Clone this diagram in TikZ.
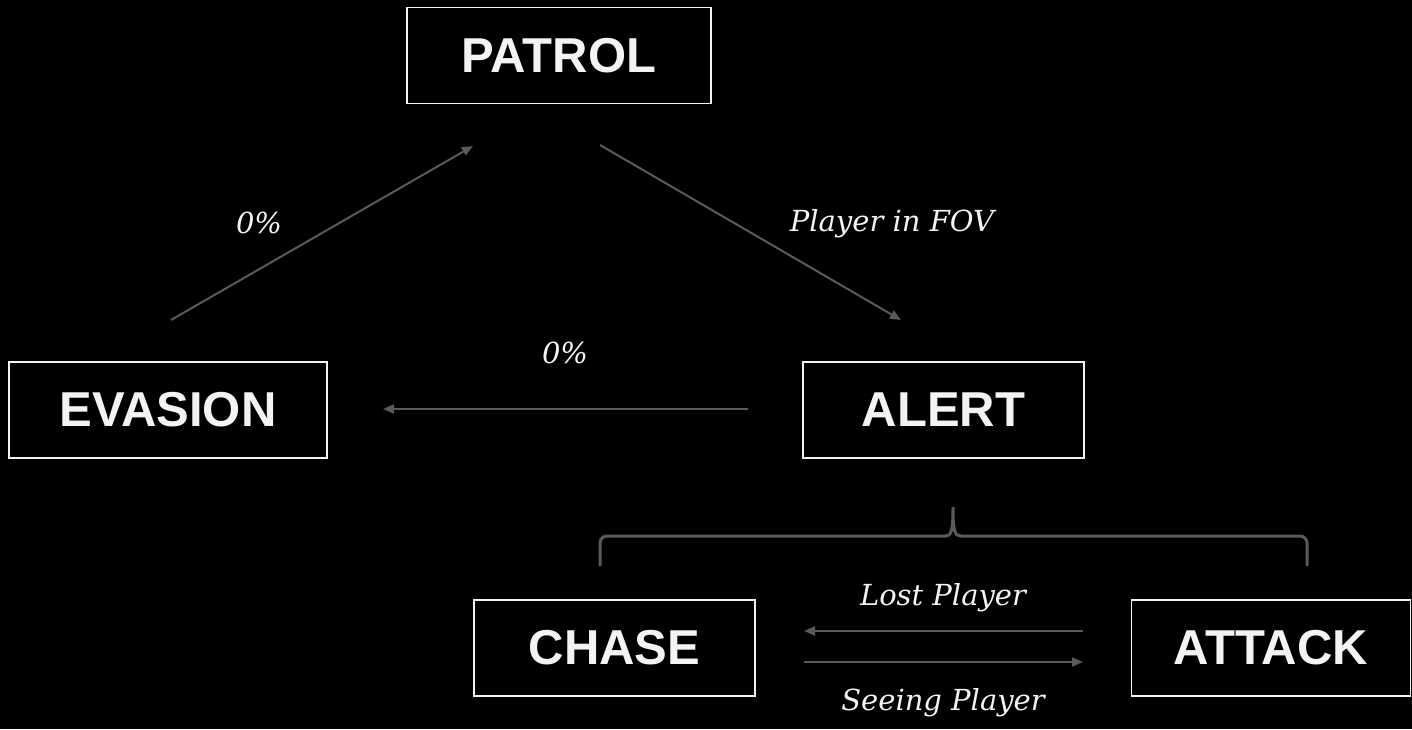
\documentclass[tikz,border=0pt]{standalone}
\usepackage{fontspec}
\setmainfont{Liberation Sans}
\newfontfamily\statefont{Liberation Sans}
\newfontfamily\labelfont{DejaVu Serif}
\usetikzlibrary{arrows.meta}
\definecolor{fg}{HTML}{F3F3F3}
\definecolor{wire}{HTML}{5A5A5A}
\tikzset{
  state/.style={draw=fg, line width=1.8pt, fill=black, text=fg,
    minimum height=96pt, inner sep=0pt,
    font=\statefont\bfseries\fontsize{49}{52}\selectfont},
  trans/.style={draw=wire, line width=2pt,
    -{Triangle[length=11pt,width=9pt]}},
  tlabel/.style={text=fg, inner sep=0pt,
    font=\labelfont\itshape\fontsize{29}{32}\selectfont},
  bracket/.style={draw=wire, line width=3pt, line cap=round}
}
\begin{document}
\begin{tikzpicture}[x=1pt,y=-1pt]
  \fill[black] (0,0) rectangle (1412,729);
  \useasboundingbox (0,0) rectangle (1412,729);

  % states
  \node[state, minimum width=304pt] (patrol)  at (559,55.5)  {PATROL};
  \node[state, minimum width=318pt] (evasion) at (168,410)   {EVASION};
  \node[state, minimum width=281pt] (alert)   at (943.5,410) {ALERT};
  \node[state, minimum width=281pt] (chase)   at (614.5,648) {CHASE};
  \node[state, minimum width=279pt] (attack)  at (1271,648)  {ATTACK};

  % connector end points
  \coordinate (evOut)  at (171,320);
  \coordinate (paIn)   at (473,146);
  \coordinate (paOut)  at (600,145);
  \coordinate (alIn)   at (901,320);
  \coordinate (alOut)  at (748,409);
  \coordinate (evIn)   at (383,409);
  \coordinate (atOut)  at (1083,631);
  \coordinate (chIn)   at (804,631);
  \coordinate (chOut)  at (804,662);
  \coordinate (atIn)   at (1083,662);

  % transitions
  \draw[trans] (evOut) -- (paIn);
  \draw[trans] (paOut) -- (alIn);
  \draw[trans] (alOut) -- (evIn);
  \draw[trans] (atOut) -- (chIn);
  \draw[trans] (chOut) -- (atIn);

  % transition labels
  \node[tlabel] (l1) at (259,223) {0\%};
  \node[tlabel] (l2) at (892,224) {Player in FOV};
  \node[tlabel] (l3) at (565,353) {0\%};
  \node[tlabel] (l4) at (943,598) {Lost Player};
  \node[tlabel] (l5) at (943,703) {Seeing Player};

  % bracket grouping the sub-states of ALERT
  \draw[bracket, rounded corners=7pt]
    (600,565) -- (600,536) -- (946,536);
  \draw[bracket]
    (945,536) .. controls (951,536) and (953,532) .. (953,507)
    .. controls (953,532) and (955,536) .. (961,536);
  \draw[bracket, rounded corners=7pt]
    (960,536) -- (1307,536) -- (1307,565);
\end{tikzpicture}
\end{document}
